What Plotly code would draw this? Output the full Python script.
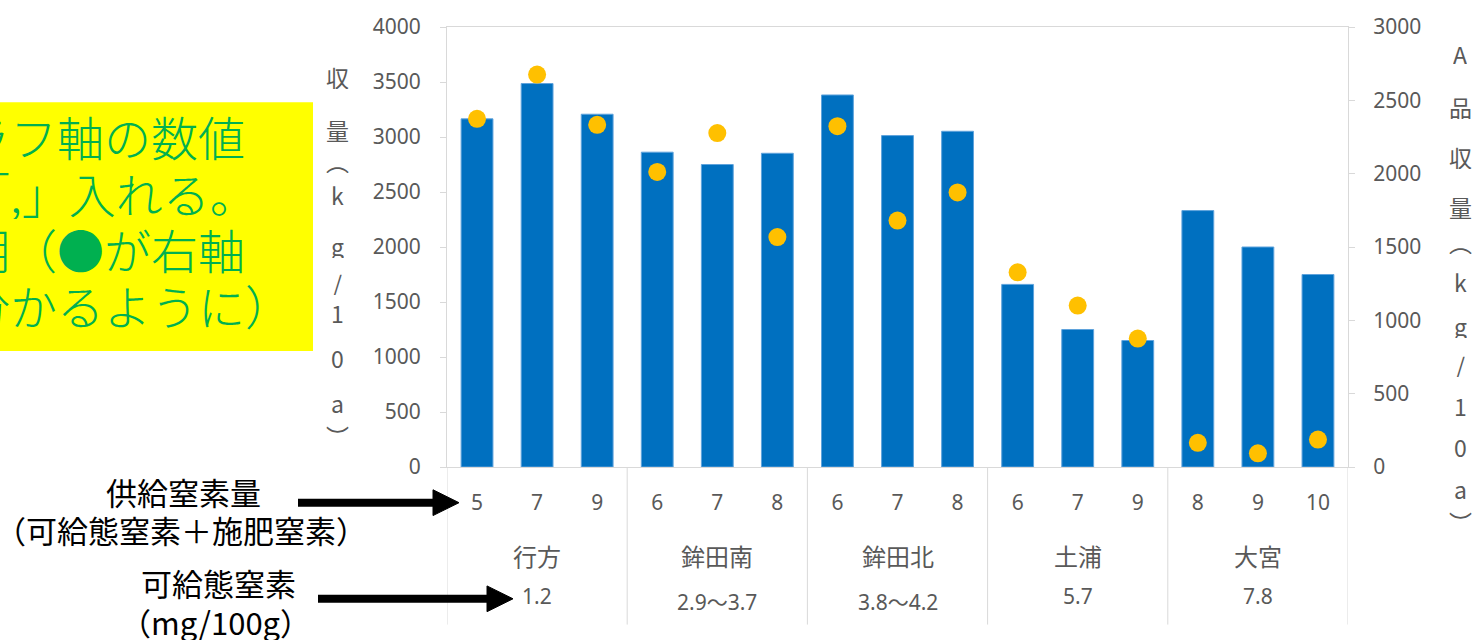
import plotly.graph_objects as go

# ---- data -------------------------------------------------------------
groups = ["行方", "鉾田南", "鉾田北", "土浦", "大宮"]
soil_n = ["1.2", "2.9～3.7", "3.8～4.2", "5.7", "7.8"]          # 可給態窒素 (mg/100g)
group_sizes = [3, 3, 3, 3, 3]
supply_n = [5, 7, 9, 6, 7, 8, 6, 7, 8, 6, 7, 9, 8, 9, 10]        # 供給窒素量
total_yield = [3165, 3486, 3207, 2862, 2750, 2852, 3382, 3013, 3052,
               1660, 1250, 1150, 2331, 2000, 1750]              # 収量 (kg/10a)
grade_a_yield = [2374, 2676, 2333, 2012, 2277, 1568, 2324, 1680, 1872,
                 1327, 1101, 876, 165, 93, 187]                 # A品収量 (kg/10a)

left_ticks = [0, 500, 1000, 1500, 2000, 2500, 3000, 3500, 4000]
right_ticks = [0, 500, 1000, 1500, 2000, 2500, 3000]

note_lines = ["グラフ軸の数値", "に「,」入れる。", "説明（●が右軸", "と分かるように）"]

# ---- layout geometry (pixels) ----------------------------------------
W, H = 1475, 643
PL, PR, PT, PB = 447, 1348, 23, 467


def px(x):
    return (x - PL) / (PR - PL)


def py(y):
    return (PB - y) / (PB - PT)


GRAY = "#595959"
LINE = "#D9D9D9"
CJK = "Noto Sans CJK JP"

x_idx = list(range(len(supply_n)))

fig = go.Figure()
fig.add_trace(go.Bar(
    x=x_idx, y=total_yield, width=0.53,
    marker=dict(color="#0070C0", line=dict(color="#5FA3DC", width=1)),
    name="収量", yaxis="y",
))
fig.add_trace(go.Scatter(
    x=x_idx, y=grade_a_yield, mode="markers",
    marker=dict(color="#FFC000", size=18, line=dict(width=0)),
    name="A品収量", yaxis="y2",
))

fig.update_layout(
    width=W, height=H,
    margin=dict(l=PL, r=W - PR, t=PT, b=H - PB, pad=0),
    paper_bgcolor="white", plot_bgcolor="white",
    showlegend=False,
    font=dict(family="Noto Sans, " + CJK + ", sans-serif", color=GRAY, size=20),
    xaxis=dict(
        range=[-0.5, len(supply_n) - 0.5],
        tickmode="array", tickvals=x_idx, ticktext=[str(v) for v in supply_n],
        ticks="", showgrid=False, zeroline=False,
        showline=True, linecolor=LINE, linewidth=1, mirror=True,
        tickfont=dict(size=21, color=GRAY),
        ticklabelstandoff=17,
    ),
    yaxis=dict(
        range=[0, 4000], tickmode="array", tickvals=left_ticks,
        showgrid=False, zeroline=False,
        showline=True, linecolor=LINE, linewidth=1,
        ticks="outside", ticklen=6, tickcolor=LINE,
        tickfont=dict(size=21, color=GRAY),
        ticklabelstandoff=15,
    ),
    yaxis2=dict(
        range=[0, 3000], tickmode="array", tickvals=right_ticks,
        overlaying="y", side="right",
        showgrid=False, zeroline=False,
        showline=True, linecolor=LINE, linewidth=1,
        ticks="outside", ticklen=6, tickcolor=LINE,
        tickfont=dict(size=21, color=GRAY),
        ticklabelstandoff=14,
    ),
)

shapes = []
annotations = []

# group dividers below the category axis
bounds = [-0.5]
for n in group_sizes:
    bounds.append(bounds[-1] + n)
for b in bounds:
    shapes.append(dict(type="line", xref="x", yref="paper",
                       x0=b, x1=b, y0=0, y1=py(626),
                       line=dict(color=LINE, width=1)))

# group names and soil nitrogen rows
for i, (g, s) in enumerate(zip(groups, soil_n)):
    xc = (bounds[i] + bounds[i + 1]) / 2
    annotations.append(dict(text=g, xref="x", yref="paper", x=xc, y=py(556),
                            showarrow=False, xanchor="center", yanchor="middle",
                            font=dict(family=CJK, size=24, color=GRAY)))
    yv = 603 if "～" in s else 597
    annotations.append(dict(text=s, xref="x", yref="paper", x=xc, y=py(yv),
                            showarrow=False, xanchor="center", yanchor="middle",
                            font=dict(family="Noto Sans, " + CJK, size=21, color=GRAY)))

# vertical axis titles, one character per row
left_title = ["収", "量", "︵", "k", "g", "/", "1", "0", "a", "︶"]
left_y = [73, 127, 158, 193, 244, 281, 312, 357, 402, 436]
for ch, yy in zip(left_title, left_y):
    annotations.append(dict(text=ch, xref="paper", yref="paper", x=px(337), y=py(yy),
                            showarrow=False, xanchor="center", yanchor="middle",
                            height=24,
                            font=dict(family=CJK, size=23, color=GRAY)))

right_title = ["A", "品", "収", "量", "︵", "k", "g", "/", "1", "0", "a", "︶"]
right_y = [50, 104, 154, 205, 240, 280, 325, 364, 405, 447, 489, 522]
for ch, yy in zip(right_title, right_y):
    annotations.append(dict(text=ch, xref="paper", yref="paper", x=px(1460), y=py(yy),
                            showarrow=False, xanchor="center", yanchor="middle",
                            height=24,
                            font=dict(family=CJK, size=23, color=GRAY)))

# yellow note box
shapes.append(dict(type="rect", xref="paper", yref="paper",
                   x0=px(-10), x1=px(313), y0=py(350), y1=py(99),
                   fillcolor="#FFFF00", line=dict(width=0), layer="above"))
note_y = [132, 189, 246, 303]
for t, yy in zip(note_lines, note_y):
    annotations.append(dict(text=t, xref="paper", yref="paper", x=px(-86), y=py(yy),
                            showarrow=False, xanchor="left", yanchor="middle",
                            height=54,
                            font=dict(family=CJK, size=47, color="#00B050", weight=300)))

# explanatory labels with arrows
labels = [("供給窒素量", 183, 491), ("（可給態窒素＋施肥窒素）", 181, 530),
          ("可給態窒素", 218, 583), ("（mg/100g）", 216, 622)]
for t, xc, yy in labels:
    annotations.append(dict(text=t, xref="paper", yref="paper", x=px(xc), y=py(yy),
                            showarrow=False, xanchor="center", yanchor="middle",
                            height=38,
                            font=dict(family=CJK, size=31, color="black")))

for x_tail, x_tip, yy in [(298, 459, 503), (318, 513, 600)]:
    shapes.append(dict(type="line", xref="paper", yref="paper",
                       x0=px(x_tail), x1=px(x_tip - 20), y0=py(yy), y1=py(yy),
                       line=dict(color="black", width=8)))
    path = "M {},{} L {},{} L {},{} Z".format(
        px(x_tip - 26), py(yy - 13), px(x_tip), py(yy), px(x_tip - 26), py(yy + 13))
    shapes.append(dict(type="path", xref="paper", yref="paper", path=path,
                       fillcolor="black", line=dict(color="black", width=1)))

fig.update_layout(shapes=shapes, annotations=annotations)
fig.write_html("out.html")
